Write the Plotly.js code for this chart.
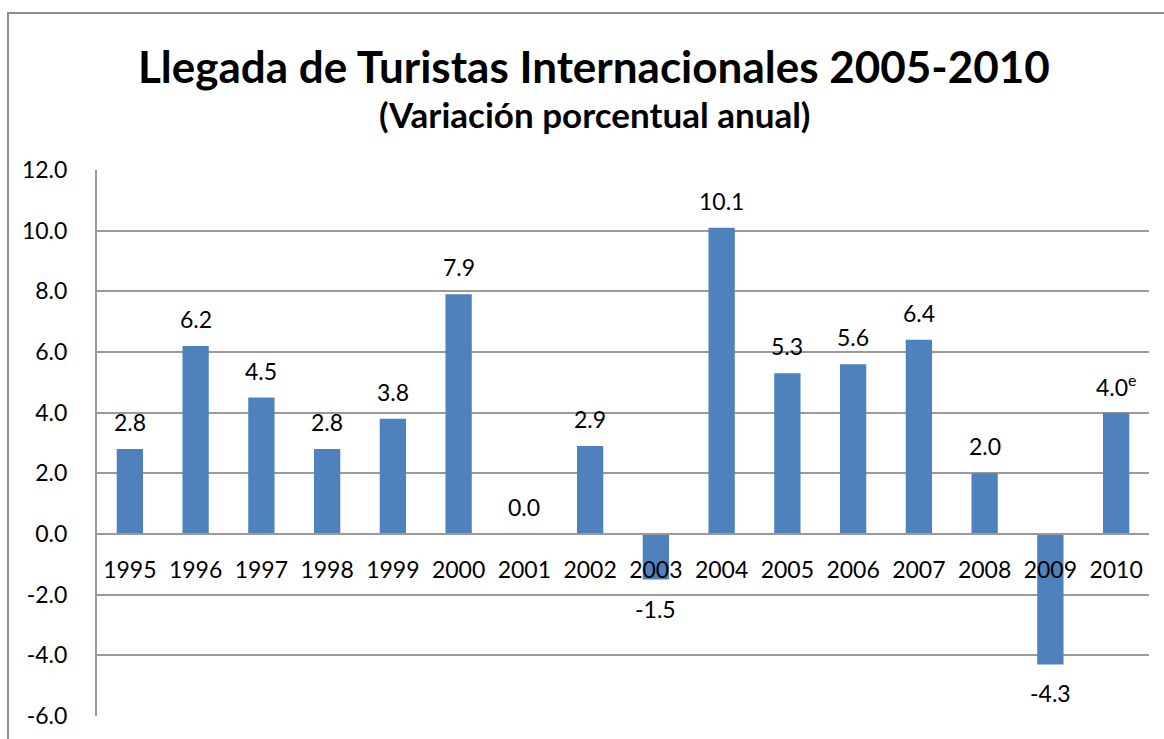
<!DOCTYPE html>
<html>
<head>
<meta charset="utf-8">
<script src="https://cdn.plot.ly/plotly-3.0.1.min.js"></script>
<style>html,body{margin:0;padding:0;background:#fff;}#chart{width:1164px;height:739px;}</style>
</head>
<body>
<div id="chart"></div>
<script>
const years = ['1995','1996','1997','1998','1999','2000','2001','2002','2003','2004','2005','2006','2007','2008','2009','2010'];
const values = [2.8, 6.2, 4.5, 2.8, 3.8, 7.9, 0.0, 2.9, -1.5, 10.1, 5.3, 5.6, 6.4, 2.0, -4.3, 4.0];
const labelTexts = ['2.8','6.2','4.5','2.8','3.8','7.9','0.0','2.9','-1.5','10.1','5.3','5.6','6.4','2.0','-4.3','4.0<sup>e</sup>'];
const yTicks = [-6, -4, -2, 0, 2, 4, 6, 8, 10, 12];
const yTickLabels = ['-6.0','-4.0','-2.0','0.0','2.0','4.0','6.0','8.0','10.0','12.0'];
const titleText = 'Llegada de Turistas Internacionales 2005-2010';
const subtitleText = '(Variación porcentual anual)';

const FONT = 'Lato, "Open Sans", sans-serif';
const yMin = -6, yMax = 12;

const trace = {
  type: 'bar',
  x: years,
  y: values,
  marker: {color: '#4F81BD'},
  hoverinfo: 'x+y'
};

const annotations = years.map((yr, i) => ({
  x: i, y: values[i], xref: 'x', yref: 'y',
  xanchor: 'center', yanchor: 'middle',
  text: labelTexts[i], showarrow: false,
  yshift: values[i] < 0 ? -29 : 27,
  font: {family: FONT, size: 23, color: '#000'}
}));

annotations.push({
  xref: 'paper', yref: 'paper', x: 0.472, y: 1.19,
  xanchor: 'center', yanchor: 'middle',
  text: '<b>' + titleText + '</b>', showarrow: false,
  font: {family: FONT, size: 44, color: '#000'}
});
annotations.push({
  xref: 'paper', yref: 'paper', x: 0.4725, y: 1.103,
  xanchor: 'center', yanchor: 'middle',
  text: '<b>' + subtitleText + '</b>', showarrow: false,
  font: {family: FONT, size: 35, color: '#000'}
});

const layout = {
  width: 1164, height: 739,
  margin: {l: 97, r: 15, t: 170, b: 23},
  paper_bgcolor: '#fff', plot_bgcolor: '#fff',
  bargap: 0.6,
  showlegend: false,
  font: {family: FONT, size: 23, color: '#000'},
  xaxis: {
    type: 'category',
    categoryorder: 'array', categoryarray: years,
    range: [-0.5, years.length - 0.5],
    anchor: 'free',
    position: (0 - yMin) / (yMax - yMin),
    showline: true, linecolor: '#9a9a9a', linewidth: 2,
    showgrid: false, zeroline: false,
    ticks: '', ticklabelstandoff: 15,
    tickfont: {family: FONT, size: 23, color: '#000'}
  },
  yaxis: {
    range: [yMin, yMax],
    tickvals: yTicks, ticktext: yTickLabels,
    showgrid: true, gridcolor: '#9a9a9a', gridwidth: 2,
    zeroline: false,
    showline: true, linecolor: '#9a9a9a', linewidth: 2,
    ticks: '', ticklabelstandoff: 23,
    tickfont: {family: FONT, size: 23, color: '#000'}
  },
  shapes: [{
    type: 'rect', xref: 'paper', yref: 'paper',
    x0: -0.0846, x1: 1.2, y0: -0.2, y1: 1.2875,
    line: {color: '#8c8c8c', width: 2}, layer: 'below'
  }],
  annotations: annotations
};

Plotly.newPlot('chart', [trace], layout, {displayModeBar: false, staticPlot: true});
</script>
</body>
</html>
